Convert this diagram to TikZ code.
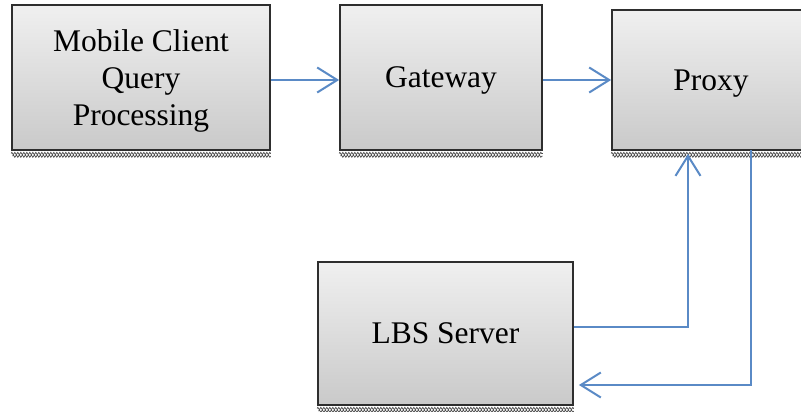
\documentclass[tikz,border=0pt]{standalone}
\usepackage{fontspec}
\setmainfont{Liberation Serif}
\usetikzlibrary{arrows.meta,decorations.pathmorphing,calc}
\definecolor{flow}{HTML}{5A8AC6}
\definecolor{edge}{HTML}{2E2E2E}
\tikzset{
  block/.style={draw=edge, line width=1.8pt, top color=gray!12, bottom color=gray!42,
    inner sep=0pt, align=center, text depth=0pt, font=\fontsize{31.5}{37}\selectfont},
  link/.style={draw=flow, line width=2pt, line join=miter,
    -{Straight Barb[length=20pt,width=25pt,line width=2pt]}},
  hatch/.style={draw=edge!85, line width=0.7pt, decorate,
    decoration={zigzag, segment length=3pt, amplitude=1.2pt}},
}
\begin{document}
\begin{tikzpicture}[x=1pt, y=-1pt]
  \clip (0,0) rectangle (801,412);
  \fill[white] (0,0) rectangle (801,412);

  % process blocks
  \node[block, minimum width=258pt, minimum height=145pt] (mob) at (141,77.5)
    {Mobile Client\\Query\\Processing};
  \node[block, minimum width=202pt, minimum height=145pt] (gw) at (441,77.5) {Gateway};
  \node[block, minimum width=198pt, minimum height=140pt] (px) at (711,80) {Proxy};
  \node[block, minimum width=255pt, minimum height=143pt] (lbs) at (445.5,333.5) {LBS Server};

  % rough textured strip under each block
  \foreach \b in {mob,gw,px,lbs} {
    \draw[hatch] ([yshift=-2.6pt]\b.south west) -- ([yshift=-2.6pt]\b.south east);
    \draw[hatch] ([yshift=-5.2pt, xshift=1.5pt]\b.south west) -- ([yshift=-5.2pt]\b.south east);
  }

  % connection end points
  \coordinate (upin) at (688,154);
  \coordinate (downout) at (751,150);

  % connectors
  \draw[link] (mob.east |- px.west) -- (gw.west |- px.west);
  \draw[link] (gw.east |- px.west) -- (px.west);
  \draw[link] ([yshift=6.5pt]lbs.east) -| (upin);
  \draw[link] (downout) |- ([xshift=5pt, yshift=-51.5pt]lbs.east);
\end{tikzpicture}
\end{document}
